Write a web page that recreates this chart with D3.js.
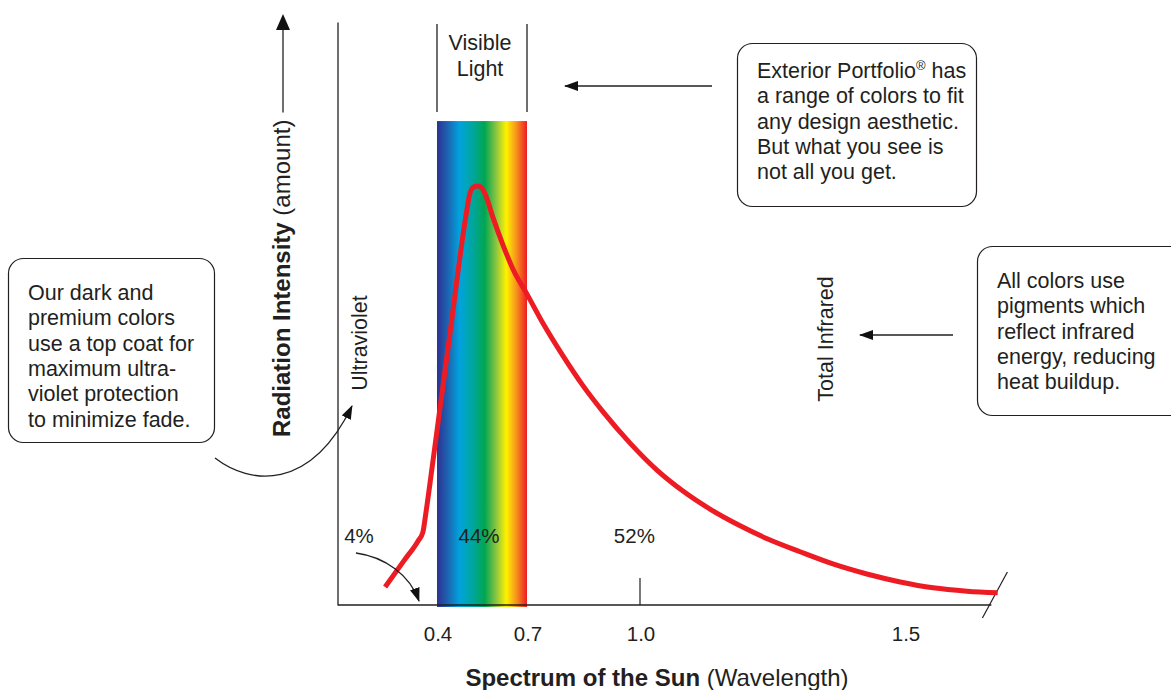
<!DOCTYPE html>
<html>
<head>
<meta charset="utf-8">
<script src="https://cdn.jsdelivr.net/npm/d3@7/dist/d3.min.js"></script>
<style>
  html, body { margin: 0; padding: 0; background: #fff; }
  svg { display: block; }
  text { font-family: "Liberation Sans", Arial, Helvetica, sans-serif; fill: #231f20; }
</style>
</head>
<body>
<svg id="chart" width="1171" height="690"></svg>
<script>
// ---- data ----
const tickValues = [0.4, 0.7, 1.0, 1.5];
const tickLabels = ["0.4", "0.7", "1.0", "1.5"];
const tickMarks = [1.0];
const visibleBand = [0.4, 0.7];
const curveWavelength = [0.227, 0.29, 0.337, 0.353, 0.363, 0.387, 0.443, 0.497, 0.51, 0.523, 0.537, 0.55, 0.563, 0.587, 0.62, 0.653, 0.7, 0.742, 0.796, 0.849, 0.902, 0.973, 1.032, 1.081, 1.132, 1.189, 1.240, 1.302, 1.364, 1.428, 1.491, 1.553, 1.617, 1.675];
const curveIntensity  = [4.3, 10.6, 15.3, 17.4, 22.0, 34.6, 64.7, 93.1, 98.3, 99.8, 100, 99.5, 97.6, 92.4, 85.9, 80.2, 74.2, 67.3, 59.4, 52.3, 46.1, 38.7, 32.2, 27.2, 22.9, 18.9, 15.8, 12.7, 9.8, 7.4, 5.5, 4.1, 3.3, 2.9];
const shareLabels = ["4%", "44%", "52%"];
const shareWavelength = [0.14, 0.54, 0.985];
const spectrumColors = ["#2e3192", "#1c64b1", "#00a3de", "#00a69c", "#00a651", "#8dc63f", "#fff200", "#f7941d", "#ed1c24"];
const spectrumOffsets = [0, 0.12, 0.25, 0.40, 0.53, 0.66, 0.77, 0.88, 1.0];
const leftNote = ["Our dark and", "premium colors", "use a top coat for", "maximum ultra-", "violet protection", "to minimize fade."];
const topNote = ["Exterior Portfolio\u00AE has", "a range of colors to fit", "any design aesthetic.", "But what you see is", "not all you get."];
const rightNote = ["All colors use", "pigments which", "reflect infrared", "energy, reducing", "heat buildup."];

// ---- layout ----
const svg = d3.select("#chart");
const x = d3.scaleLinear().domain([0.4, 0.7, 1.0, 1.5]).range([437, 527, 640, 905]);
const y = d3.scaleLinear().domain([0, 100]).range([605, 186]);
const axisStartW = 0.07, axisEndW = 1.663;
const bandTop = 115.5, axisTop = 139;
const FS = 21.5;
const INK = "#231f20";

const defs = svg.append("defs");
const grad = defs.append("linearGradient").attr("id", "spec").attr("x1", "0%").attr("x2", "100%").attr("y1", "0%").attr("y2", "0%");
grad.selectAll("stop").data(spectrumColors).join("stop")
  .attr("offset", (d, i) => spectrumOffsets[i]).attr("stop-color", d => d);
defs.append("marker").attr("id", "ah").attr("viewBox", "0 0 14 10").attr("refX", 13).attr("refY", 5)
  .attr("markerWidth", 14).attr("markerHeight", 10).attr("markerUnits", "userSpaceOnUse").attr("orient", "auto")
  .append("path").attr("d", "M0,0 L14,5 L0,10 Z").attr("fill", "#111");

// spectrum band
svg.append("rect")
  .attr("x", x(visibleBand[0])).attr("width", x(visibleBand[1]) - x(visibleBand[0]))
  .attr("y", y(bandTop)).attr("height", y(0) - y(bandTop) + 2)
  .attr("fill", "url(#spec)");

// axes
svg.append("line").attr("x1", x(axisStartW)).attr("x2", x(axisStartW)).attr("y1", y(axisTop)).attr("y2", y(0) + 0.5)
  .attr("stroke", INK).attr("stroke-width", 1.3);
svg.append("line").attr("x1", x(axisStartW)).attr("x2", x(axisEndW)).attr("y1", y(0)).attr("y2", y(0))
  .attr("stroke", INK).attr("stroke-width", 1.5);
// break mark
svg.append("line").attr("x1", x(axisEndW) - 9).attr("y1", y(0) + 13).attr("x2", x(axisEndW) + 16).attr("y2", y(0) - 33)
  .attr("stroke", INK).attr("stroke-width", 1.2);
// tick marks
svg.selectAll(".tm").data(tickMarks).join("line")
  .attr("x1", d => x(d)).attr("x2", d => x(d)).attr("y1", y(0) - 27).attr("y2", y(0))
  .attr("stroke", INK).attr("stroke-width", 1.2);
// tick labels
svg.selectAll(".tl").data(tickValues).join("text")
  .attr("x", d => x(d) + 1).attr("y", y(0) + 36)
  .attr("text-anchor", "middle").attr("font-size", 20.5).text((d, i) => tickLabels[i]);

// visible light bracket
svg.selectAll(".vb").data(visibleBand).join("line")
  .attr("x1", d => x(d)).attr("x2", d => x(d)).attr("y1", 24).attr("y2", 112)
  .attr("stroke", INK).attr("stroke-width", 1.3);
const vMid = (x(visibleBand[0]) + x(visibleBand[1])) / 2;
svg.append("text").attr("x", vMid - 2).attr("y", 50).attr("text-anchor", "middle").attr("font-size", FS).text("Visible");
svg.append("text").attr("x", vMid - 2).attr("y", 76).attr("text-anchor", "middle").attr("font-size", FS).text("Light");

// curve
const line = d3.line().x(d => x(d[0])).y(d => y(d[1])).curve(d3.curveMonotoneX);
svg.append("path")
  .attr("d", line(curveWavelength.map((w, i) => [w, curveIntensity[i]])))
  .attr("fill", "none").attr("stroke", "#ed1c24").attr("stroke-width", 5)
  .attr("stroke-linejoin", "round");

// share labels
svg.selectAll(".sl").data(shareLabels).join("text")
  .attr("x", (d, i) => x(shareWavelength[i])).attr("y", 543)
  .attr("text-anchor", "middle").attr("font-size", 20.5).text(d => d);

// rotated labels
svg.append("text").attr("transform", "translate(367,343) rotate(-90)")
  .attr("text-anchor", "middle").attr("font-size", FS).text("Ultraviolet");
svg.append("text").attr("transform", "translate(833,339) rotate(-90)")
  .attr("text-anchor", "middle").attr("font-size", FS).text("Total Infrared");

// y axis title with arrow
const yt = svg.append("text").attr("transform", "translate(290,437) rotate(-90)").attr("font-size", 24);
yt.append("tspan").attr("font-weight", "bold").text("Radiation Intensity");
yt.append("tspan").text(" (amount)");
const ytLen = yt.node().getComputedTextLength();
svg.append("line").attr("x1", 283).attr("x2", 283).attr("y1", 437 - ytLen - 7).attr("y2", 28)
  .attr("stroke", INK).attr("stroke-width", 1.3);
svg.append("path").attr("d", "M283,14 L290,30 L276,30 Z").attr("fill", "#111");

// x axis title
const xt = svg.append("text").attr("x", 657).attr("y", 686).attr("text-anchor", "middle").attr("font-size", 24);
xt.append("tspan").attr("font-weight", "bold").text("Spectrum of the Sun");
xt.append("tspan").text(" (Wavelength)");

// note boxes
function note(lines, bx, by, bw, bh, tx, ty) {
  svg.append("rect").attr("x", bx).attr("y", by).attr("width", bw).attr("height", bh)
    .attr("rx", 15).attr("ry", 15).attr("fill", "#fff").attr("stroke", INK).attr("stroke-width", 1.2);
  const t = svg.append("text").attr("font-size", FS);
  t.selectAll("tspan").data(lines).join("tspan")
    .attr("x", tx).attr("y", (d, i) => ty + i * 25.3)
    .each(function(d) {
      const el = d3.select(this);
      if (d.includes("\u00AE")) {
        const parts = d.split("\u00AE");
        el.text(null);
        el.append("tspan").text(parts[0]);
        el.append("tspan").attr("font-size", 13).attr("dy", -8).text("\u00AE");
        el.append("tspan").attr("dy", 8).text(parts[1]);
      } else el.text(d);
    });
}
note(leftNote, 8.5, 258.5, 206, 184, 28, 300);
note(topNote, 737.5, 43.5, 239, 163, 757, 78);
note(rightNote, 977.5, 246.5, 210, 169, 997, 288);

// arrows
svg.append("line").attr("x1", 712).attr("y1", 86).attr("x2", 565).attr("y2", 86)
  .attr("stroke", INK).attr("stroke-width", 1.3).attr("marker-end", "url(#ah)");
svg.append("line").attr("x1", 953).attr("y1", 335).attr("x2", 860).attr("y2", 335)
  .attr("stroke", INK).attr("stroke-width", 1.3).attr("marker-end", "url(#ah)");
svg.append("path").attr("d", "M215,458 C250,485 310,492 352,406")
  .attr("fill", "none").attr("stroke", INK).attr("stroke-width", 1.3).attr("marker-end", "url(#ah)");
svg.append("path").attr("d", "M356,553 C385,557 410,575 419,601")
  .attr("fill", "none").attr("stroke", INK).attr("stroke-width", 1.3).attr("marker-end", "url(#ah)");
</script>
</body>
</html>
